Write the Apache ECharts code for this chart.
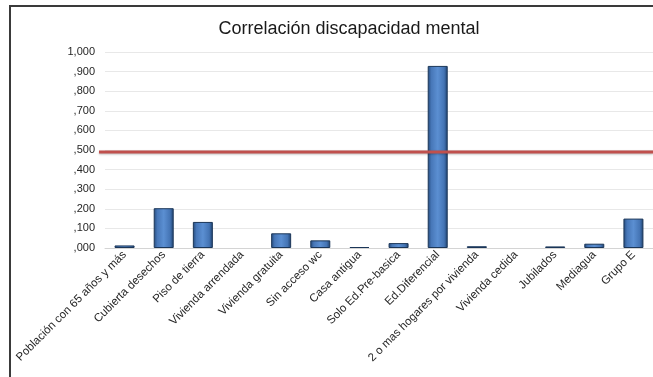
<!DOCTYPE html>
<html>
<head>
<meta charset="utf-8">
<script src="https://cdn.jsdelivr.net/npm/echarts@6/dist/echarts.min.js"></script>
<style>
  html, body { margin: 0; padding: 0; background: #fff; }
  #chart { width: 653px; height: 377px; }
</style>
</head>
<body>
<div id="chart"></div>
<script>
// Categories along the x axis
const categories = [
  'Población con 65 años y más', 'Cubierta desechos', 'Piso de tierra',
  'Vivienda arrendada', 'Vivienda gratuita', 'Sin acceso wc', 'Casa antigua',
  'Solo Ed.Pre-basica', 'Ed.Diferencial', '2 o mas hogares por vivienda',
  'Vivienda cedida', 'Jubilados', 'Mediagua', 'Grupo E'
];
// Correlation coefficient per category
const correlation = [
  0.013, 0.203, 0.133, 0.0, 0.075, 0.039, 0.005,
  0.025, 0.929, 0.009, 0.0, 0.008, 0.022, 0.150
];
// Reference threshold drawn as a horizontal line
const threshold = 0.49;
// Y axis tick labels (0 .. 1 by 0.1)
const yTickLabels = [',000', ',100', ',200', ',300', ',400', ',500',
                     ',600', ',700', ',800', ',900', '1,000'];

const chart = echarts.init(document.getElementById('chart'), null, { renderer: 'canvas' });

const font = 'Liberation Sans, Arial, sans-serif';
const barFill = new echarts.graphic.LinearGradient(0, 0, 1, 0, [
  { offset: 0, color: '#23497a' },
  { offset: 0.18, color: '#4777b8' },
  { offset: 0.5, color: '#5b8fd2' },
  { offset: 0.82, color: '#4474b4' },
  { offset: 1, color: '#1d3f6b' }
]);

// Zero-height bars get no outline so nothing shows on the baseline
const barData = correlation.map(v => ({
  value: v,
  itemStyle: v === 0 ? { borderWidth: 0 } : {}
}));

chart.setOption({
  animation: false,
  backgroundColor: '#ffffff',
  title: {
    text: 'Correlación discapacidad mental',
    left: 344, top: 15, textAlign: 'center',
    textStyle: { fontFamily: font, fontSize: 18, fontWeight: 'normal', color: '#1a1a1a' }
  },
  graphic: [{
    type: 'rect', silent: true, z: -1,
    shape: { x: 10, y: 6, width: 720, height: 420 },
    style: { fill: 'none', stroke: '#3a3a3a', lineWidth: 2 }
  }],
  grid: [
    { left: 105, right: 0, top: 52, bottom: 129 },
    { left: 99, right: 0, top: 52, bottom: 129 }
  ],
  xAxis: [{
    type: 'category', gridIndex: 0, data: categories,
    axisTick: { show: false },
    axisLine: { show: true, lineStyle: { color: '#d4d4d4', width: 1 } },
    axisLabel: {
      interval: 0, rotate: 45, margin: 5,
      fontFamily: font, fontSize: 11.5, color: '#262626'
    }
  }, {
    type: 'value', gridIndex: 1, min: 0, max: 1, show: false
  }],
  yAxis: [{
    type: 'value', gridIndex: 0, min: 0, max: 1, interval: 0.1,
    axisLine: { show: false }, axisTick: { show: false },
    splitLine: { lineStyle: { color: '#e8e8e8', width: 1 } },
    axisLabel: {
      margin: 10, fontFamily: font, fontSize: 11, color: '#262626',
      formatter: v => yTickLabels[Math.round(v * 10)]
    }
  }, {
    type: 'value', gridIndex: 1, min: 0, max: 1, show: false
  }],
  series: [{
    type: 'bar', xAxisIndex: 0, yAxisIndex: 0,
    data: barData,
    barWidth: 20,
    itemStyle: { color: barFill, borderColor: '#1b3658', borderWidth: 1 }
  }, {
    type: 'line', xAxisIndex: 1, yAxisIndex: 1,
    data: [[0, threshold], [1, threshold]],
    symbol: 'none', z: 5,
    lineStyle: {
      color: '#c0504d', width: 3,
      shadowColor: 'rgba(0,0,0,0.25)', shadowBlur: 2, shadowOffsetY: 1
    }
  }]
});
</script>
</body>
</html>
